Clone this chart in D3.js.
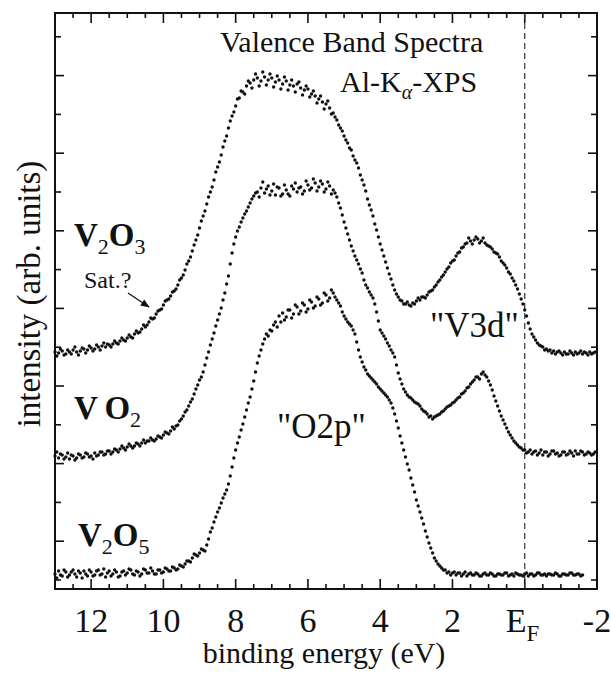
<!DOCTYPE html>
<html><head><meta charset="utf-8">
<script src="https://cdn.jsdelivr.net/npm/d3@7"></script>
<style>
body{margin:0;background:#fff}
svg{display:block}
</style>
</head><body><div id="chart"></div>
<script>
// binding energy grid: first point and step (eV)
const energyStart = 13.0, energyStep = 0.05;
// intensities (arb. units), one per grid point
const v2o3 = [
 228,224,227,231,229,225,226,230,228,226, 230,233,228,225,229,232,231,227,230,234,
 232,229,231,235,233,230,234,237,233,236, 235,233,236,239,237,236,239,242,240,239,
 242,245,243,242,246,249,247,248,251,255, 253,255,258,262,261,262,266,269,270,271,
 275,279,280,281,284,288,289,291,295,300, 302,305,310,316,319,323,329,335,340,345,
 352,359,364,369,376,383,388,393,400,408, 413,418,425,433,439,444,452,459,464,468,
 474,481,482,489,488,486,494,499,497,492, 500,506,502,494,499,508,503,495,500,506,
 502,493,498,504,500,491,496,503,499,490, 495,500,494,488,496,498,492,485,490,494,
 491,483,486,489,484,477,481,484,478,471, 476,479,472,466,467,463,460,455,452,449,
 444,440,437,432,430,424,420,417,412,405, 400,395,389,381,375,370,364,356,350,343,
 336,330,324,318,312,306,301,295,290,286, 283,280,279,276,276,278,275,274,277,276,
 279,282,280,283,283,282,285,288,289,290, 293,295,298,300,303,305,308,311,313,317,
 319,320,324,327,328,332,333,336,337,342, 339,336,340,343,341,337,339,342,337,335,
 334,333,331,328,327,326,323,319,317,315, 312,308,306,302,299,295,291,286,281,276,
 270,264,257,251,246,243,240,237,235,234, 233,230,231,229,230,227,229,226,228,229,
 227,225,228,226,226,229,227,225,228,226, 227,229,226,228,227,225,228,226,227,228];
const vo2 = [
 124,128,122,126,125,121,123,127,121,125, 124,120,122,126,125,122,123,127,126,123,
 124,121,127,124,125,128,128,125,126,129, 129,126,128,131,130,128,131,134,132,130,
 133,136,134,132,134,137,136,134,137,140, 137,139,139,142,140,139,141,144,143,142,
 145,148,147,146,149,153,151,154,155,159, 161,164,168,170,174,178,181,186,191,195,
 200,203,208,215,222,228,235,241,247,254, 260,266,272,280,287,296,304,316,327,336,
 343,349,353,358,362,366,369,373,377,381, 384,387,388,383,392,398,387,391,394,385,
 389,396,385,393,392,384,386,395,390,386, 384,394,391,397,388,392,393,386,389,399,
 395,390,392,401,397,389,393,399,396,388, 391,398,394,386,390,387,383,377,372,365,
 358,352,346,340,334,329,324,320,316,311, 307,300,295,292,288,285,282,276,268,259,
 250,247,244,241,237,234,230,227,223,215, 207,201,196,191,188,185,183,182,180,178,
 177,176,174,171,169,168,166,163,164,161, 163,164,165,166,168,169,171,173,174,175,
 177,178,180,182,183,186,187,189,192,193, 196,198,200,203,203,201,206,208,205,203,
 199,195,190,184,179,174,169,164,160,156, 152,148,145,142,139,137,135,133,132,130,
 130,127,128,130,126,128,129,125,127,130, 125,128,128,124,126,129,129,126,127,124,
 125,128,128,125,126,129,127,124,129,126, 126,129,128,125,126,128,127,125,126,128];
const v2o5 = [
 6,2,9,5,4,10,8,3,5,8, 10,6,3,9,7,2,9,6,4,10,
 8,4,5,9,10,5,6,11,3,7, 9,4,6,10,8,3,4,8,9,5,
 7,11,10,6,5,9,8,4,6,11, 10,7,7,12,9,6,6,10,10,7,
 8,12,11,9,9,13,12,10,11,15, 14,13,16,19,19,18,22,26,25,24,
 27,31,30,29,35,41,48,52,58,63, 68,72,77,82,86,90,96,104,113,122,
 130,137,143,150,156,163,170,177,183,191, 199,208,217,224,230,236,241,246,244,250,
 249,255,258,253,264,258,267,260,263,270, 270,262,266,275,273,266,269,277,275,268,
 271,280,278,272,274,283,281,275,277,287, 285,279,282,290,287,283,280,277,274,268,
 264,261,258,256,254,250,246,238,230,223, 218,213,210,206,204,202,200,198,196,193,
 191,189,187,185,183,180,177,172,166,159, 152,144,137,130,123,116,110,102,95,88,
 80,74,68,62,56,49,43,37,32,27, 22,19,16,14,12,10,10,7,8,5,
 7,8,5,7,7,4,6,8,4,6, 7,5,5,7,6,4,4,6,7,5,
 5,7,6,4,4,6,6,5,5,7, 7,4,5,6,4,7,6,5,5,4,
 6,7,4,6,6,4,5,7,7,5, 5,6,4,6,6,5,5,7,6,4,
 4,6,6,5,5,7,7,5,5,6, 6,4,5];
const xMajorTicks = [12,10,8,6,4,2,0,-2];
const xTickLabels = ["12","10","8","6","4","2","E","-2"];
const fermiLevel = 0;
const yTickStep = 38.8;

const W = 611, H = 673;
const FONT = "'Liberation Serif', 'DejaVu Serif', serif";
const svg = d3.select("#chart").append("svg").attr("width", W).attr("height", H)
  .attr("font-family", FONT);

const x = d3.scaleLinear().domain([13, -2]).range([55, 597]);
const y = d3.scaleLinear().domain([-9, 567]).range([589, 13]);

const ink = "#111";

// ticks
const minorX = d3.range(0, 31).map(i => 13 - i * 0.5);
const yTicks = d3.range(0, 15).map(k => k * yTickStep);

const gT = svg.append("g").attr("stroke", ink).attr("stroke-width", 1.6);
minorX.forEach(v => {
  const major = xMajorTicks.includes(v);
  const L = major ? 10 : 5;
  gT.append("line").attr("x1", x(v)).attr("x2", x(v)).attr("y1", y.range()[0]).attr("y2", y.range()[0] - L);
  gT.append("line").attr("x1", x(v)).attr("x2", x(v)).attr("y1", y.range()[1]).attr("y2", y.range()[1] + L);
});
yTicks.forEach((v, k) => {
  const L = (k % 2 === 1) ? 9 : 6;
  gT.append("line").attr("x1", x.range()[0]).attr("x2", x.range()[0] + L).attr("y1", y(v)).attr("y2", y(v));
  gT.append("line").attr("x1", x.range()[1]).attr("x2", x.range()[1] - L).attr("y1", y(v)).attr("y2", y(v));
});

// Fermi level dashed line
svg.append("line").attr("x1", x(fermiLevel)).attr("x2", x(fermiLevel))
  .attr("y1", y.range()[1]).attr("y2", y.range()[0])
  .attr("stroke", "#333").attr("stroke-width", 1.2).attr("stroke-dasharray", "6,4");

// frame
svg.append("rect").attr("x", x.range()[0]).attr("y", y.range()[1])
  .attr("width", x.range()[1] - x.range()[0]).attr("height", y.range()[0] - y.range()[1])
  .attr("fill", "none").attr("stroke", ink).attr("stroke-width", 2);

// data dots
const series = [v2o3, vo2, v2o5];
const gD = svg.append("g").attr("fill", ink);
series.forEach(s => {
  gD.selectAll(null).data(s).enter().append("circle")
    .attr("cx", (d, i) => x(energyStart - i * energyStep))
    .attr("cy", d => y(d))
    .attr("r", 1.7);
});

// x tick labels
xMajorTicks.forEach((v, i) => {
  const t = svg.append("text").attr("x", x(v)).attr("y", 632).attr("fill", ink)
    .attr("text-anchor", "middle").attr("font-size", 34);
  if (xTickLabels[i] === "E") {
    t.attr("text-anchor", "start").attr("x", x(v) - 19);
    t.append("tspan").text("E");
    t.append("tspan").attr("dy", 9).attr("font-size", 23).text("F");
  } else t.text(xTickLabels[i]);
});

// axis titles
svg.append("text").attr("x", 324).attr("y", 663).attr("text-anchor", "middle").attr("fill", ink)
  .attr("font-size", 30).text("binding energy (eV)");
svg.append("text").attr("transform", "translate(40,294) rotate(-90)").attr("fill", ink)
  .attr("text-anchor", "middle").attr("font-size", 33).text("intensity (arb. units)");

// compound labels
function compound(xp, yp, parts) {
  const t = svg.append("text").attr("x", xp).attr("y", yp).attr("font-size", 33)
    .attr("font-weight", "bold").attr("fill", ink);
  let down = false;
  parts.forEach(p => {
    if (p.sub) {
      t.append("tspan").attr("dy", down ? 0 : 8).attr("font-size", 22).attr("font-weight", "normal").text(p.t);
      down = true;
    } else {
      t.append("tspan").attr("dy", down ? -8 : 0).text(p.t);
      down = false;
    }
  });
}
compound(74, 246, [{t:"V"},{t:"2",sub:1},{t:"O"},{t:"3",sub:1}]);
compound(74, 419, [{t:"V\u2009O"},{t:"2",sub:1}]);
compound(78, 546, [{t:"V"},{t:"2",sub:1},{t:"O"},{t:"5",sub:1}]);

// annotations
svg.append("text").attr("x", 220).attr("y", 52).attr("font-size", 30).attr("fill", ink).text("Valence Band Spectra");
const al = svg.append("text").attr("x", 340).attr("y", 92).attr("font-size", 30).attr("fill", ink);
al.append("tspan").text("Al-K");
al.append("tspan").attr("dy", 7).attr("font-size", 20).attr("font-style", "italic").text("\u03b1");
al.append("tspan").attr("dy", -7).text("-XPS");
svg.append("text").attr("x", 84).attr("y", 288).attr("font-size", 24).attr("fill", ink).text("Sat.?");
svg.append("text").attr("x", 430).attr("y", 337).attr("font-size", 35).attr("fill", ink).text("\"V3d\"");
svg.append("text").attr("x", 277).attr("y", 438).attr("font-size", 35).attr("fill", ink).text("\"O2p\"");

// arrow for Sat.?
svg.append("defs").append("marker").attr("id", "ah").attr("viewBox", "0 0 10 10")
  .attr("refX", 9).attr("refY", 5).attr("markerWidth", 7).attr("markerHeight", 7)
  .attr("orient", "auto").append("path").attr("d", "M0,1L10,5L0,9Z").attr("fill", ink);
svg.append("line").attr("x1", 128).attr("y1", 293).attr("x2", 149).attr("y2", 307)
  .attr("stroke", ink).attr("stroke-width", 1.3).attr("marker-end", "url(#ah)");
</script>
</body></html>
